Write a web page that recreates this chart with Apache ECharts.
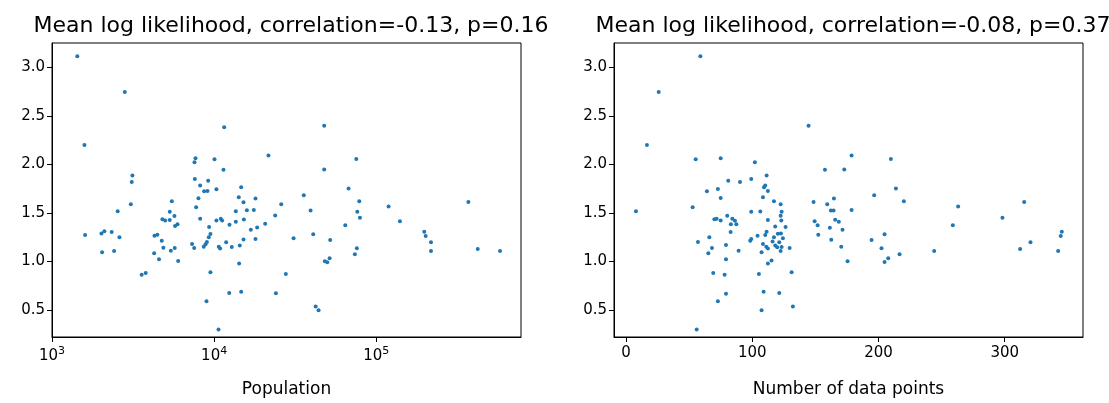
<!DOCTYPE html>
<html><head><meta charset="utf-8">
<script src="https://cdn.jsdelivr.net/npm/echarts@6/dist/echarts.min.js"></script>
<style>html,body{margin:0;padding:0;background:#fff}#c{width:1109px;height:403px}</style>
</head><body><div id="c"></div>
<script>
const popX=[1432,2812,1585,1600,3133,3105,3063,2541,2018,2104,2335,2606,2037,2415,3573,3784,4285,4467,4266,4571,4753,4864,4797,4989,5326,5326,5483,5690,5741,5943,5408,5715,5998,7566,7674,7603,7745,8003,8198,8674,9100,9190,8200,7310,7530,8630,8850,9020,9270,9490,9310,9490,8970,10050,10330,11420,11530,10330,10990,11200,10680,10890,10640,11860,12440,12850,12390,13610,13610,14190,14680,15180,15250,14390,15180,14260,14680,15920,16840,17570,17990,18420,17990,20640,21630,23800,25930,24040,27680,30900,35720,39330,40840,47730,47730,42270,44060,51950,48190,49860,51550,64400,67480,75310,78560,76380,79310,75900,73790,119100,139900,197700,201700,217500,217500,369800,422400,580000];
const popY=[3.116,2.747,2.20,1.272,1.887,1.818,1.59,1.518,1.289,1.31,1.303,1.248,1.094,1.108,0.862,0.879,1.265,1.275,1.084,1.023,1.214,1.142,1.436,1.422,1.511,1.426,1.62,1.467,1.364,1.384,1.111,1.139,1.005,2.023,2.064,1.849,1.559,1.651,1.784,1.723,1.726,1.832,1.439,1.18,1.139,1.152,1.176,1.20,1.248,1.282,1.354,0.889,0.589,2.054,1.743,1.945,2.385,1.422,1.439,1.422,1.152,1.132,0.298,1.197,1.378,1.149,0.674,1.518,1.408,1.661,1.764,1.61,1.432,1.163,1.227,0.978,0.688,1.528,1.327,1.531,1.648,1.35,1.231,1.388,2.092,1.473,1.59,0.671,0.869,1.238,1.682,1.525,1.279,2.399,1.948,0.534,0.497,1.221,1.002,0.992,1.033,1.374,1.753,2.057,1.62,1.511,1.449,1.135,1.074,1.566,1.415,1.306,1.262,1.197,1.108,1.613,1.128,1.108];
const nX=[58.9,25.9,16.6,7.9,55.2,75.0,102.1,52.8,57.0,66.0,68.1,65.2,64.1,72.8,81.0,90.3,75.0,70.0,71.8,75.0,80.2,84.2,86.3,83.1,87.4,82.9,79.2,89.2,79.2,69.1,78.1,79.2,72.8,56.0,99.2,106.4,99.2,111.4,109.3,110.3,112.4,108.5,117.2,122.5,123.3,122.5,123.0,112.4,118.2,126.4,111.4,104.2,110.3,120.3,122.7,124.3,117.2,116.1,121.4,98.4,99.2,108.5,111.1,112.4,118.2,119.8,123.3,122.5,129.6,107.4,115.3,112.4,105.3,131.2,109.0,121.4,107.4,132.2,144.6,178.7,209.8,157.6,172.9,196.6,213.8,220.1,148.6,159.4,164.7,162.3,164.4,178.7,149.4,151.8,165.7,168.6,161.5,171.5,152.3,162.6,170.5,175.5,194.5,204.8,202.4,204.8,207.7,216.7,244.1,258.9,263.1,298.2,315.4,312.2,320.4,342.3,344.4,345.2];
const nY=[3.116,2.747,2.20,1.518,2.054,2.064,2.023,1.559,1.20,1.248,1.139,1.084,1.723,1.747,1.832,1.818,1.654,1.436,1.439,1.422,1.47,1.439,1.419,1.384,1.384,1.303,1.169,1.111,1.023,0.879,0.862,0.667,0.589,0.298,1.511,1.514,1.849,1.887,1.764,1.784,1.726,1.661,1.62,1.59,1.511,1.47,1.422,1.426,1.361,1.354,1.306,1.265,1.272,1.286,1.289,1.238,1.248,1.204,1.197,1.214,1.231,1.18,1.152,1.132,1.163,1.145,1.149,1.108,1.139,1.094,1.009,0.978,0.869,0.889,0.688,0.674,0.497,0.534,2.399,2.092,2.057,1.945,1.948,1.682,1.753,1.62,1.613,1.59,1.648,1.525,1.525,1.531,1.415,1.374,1.429,1.408,1.347,1.327,1.275,1.224,1.152,1.002,1.221,1.279,1.135,0.995,1.033,1.074,1.108,1.374,1.566,1.449,1.613,1.128,1.197,1.108,1.262,1.306];
const titles=['Mean log likelihood, correlation=-0.13, p=0.16','Mean log likelihood, correlation=-0.08, p=0.37'];
const xNames=['Population','Number of data points'];
const F='DejaVu Sans';
const lbl={color:'#000',fontFamily:F,fontSize:15};
const nameSt={color:'#000',fontFamily:F,fontSize:17};
const yAx=i=>({type:'value',gridIndex:i,min:0.22,max:3.253,splitNumber:6,
 axisLine:{show:true,onZero:false,lineStyle:{color:'#000'}},axisTick:{show:true,length:5,lineStyle:{color:'#000'}},
 splitLine:{show:false},axisLabel:Object.assign({showMinLabel:false,showMaxLabel:false,margin:7,formatter:v=>v.toFixed(1)},lbl)});
const ch=echarts.init(document.getElementById('c'));
const tSt={fontFamily:F,fontSize:22,fontWeight:'normal',color:'#000'};
ch.setOption({animation:false,
 title:[{text:titles[0],left:286,top:10,textAlign:'center',textStyle:tSt},
        {text:titles[1],left:848,top:10,textAlign:'center',textStyle:tSt}],
 grid:[{left:52,top:43,width:469,height:296,show:true,borderColor:'#000',borderWidth:1,backgroundColor:'transparent'},
       {left:614,top:43,width:469,height:296,show:true,borderColor:'#000',borderWidth:1,backgroundColor:'transparent'}],
 xAxis:[{type:'log',gridIndex:0,min:1000,max:781000,logBase:10,name:xNames[0],nameLocation:'middle',nameGap:44,nameTextStyle:nameSt,
   axisLine:{onZero:false,lineStyle:{color:'#000'}},axisTick:{length:5,lineStyle:{color:'#000'}},splitLine:{show:false},
   axisLabel:Object.assign({showMaxLabel:false,margin:9,formatter:v=>{const e=Math.round(Math.log10(v));return Math.abs(Math.log10(v)-e)<1e-6?'{a|10}{b|'+e+'}':'';},
     rich:{a:{fontFamily:F,fontSize:15,color:'#000'},b:{fontFamily:F,fontSize:11,color:'#000',padding:[0,0,10,0]}}},lbl)},
  {type:'value',gridIndex:1,min:-9.5,max:362,name:xNames[1],nameLocation:'middle',nameGap:44,nameTextStyle:nameSt,
   axisLine:{onZero:false,lineStyle:{color:'#000'}},axisTick:{length:5,lineStyle:{color:'#000'}},splitLine:{show:false},
   axisLabel:Object.assign({showMinLabel:false,showMaxLabel:false,margin:9},lbl)}],
 yAxis:[yAx(0),yAx(1)],
 series:[{type:'scatter',xAxisIndex:0,yAxisIndex:0,symbolSize:4,itemStyle:{color:'#1f77b4',opacity:1},data:popX.map((x,i)=>[x,popY[i]])},
         {type:'scatter',xAxisIndex:1,yAxisIndex:1,symbolSize:4,itemStyle:{color:'#1f77b4',opacity:1},data:nX.map((x,i)=>[x,nY[i]])}]
});
</script></body></html>
